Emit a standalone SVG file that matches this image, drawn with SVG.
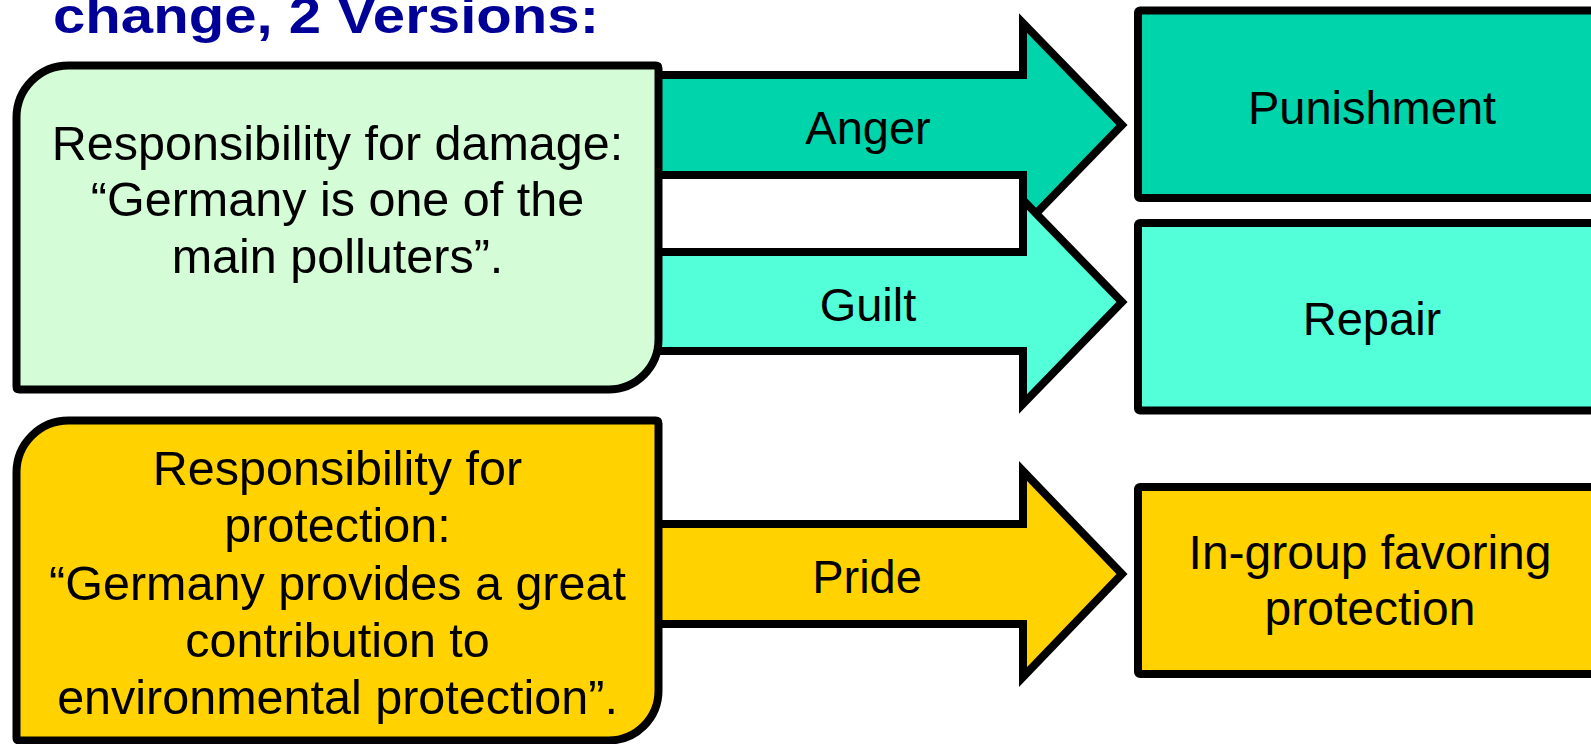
<svg xmlns="http://www.w3.org/2000/svg" width="1591" height="744" viewBox="0 0 1591 744">
<style>
.t{font-family:"Liberation Sans",Arial,sans-serif;font-size:47px;fill:#000;text-anchor:middle}
.big{font-size:48.5px}
.mid{font-size:48px}
.title{font-family:"Liberation Sans",Arial,sans-serif;font-weight:bold;font-size:50px;fill:#000099}
.s{stroke:#000;stroke-width:8;stroke-linejoin:miter}
.teal{fill:#00D4AA}
.aqua{fill:#52FFD9}
.green{fill:#D4FCD6}
.yellow{fill:#FFD200}
</style>
<rect width="1591" height="744" fill="#fff"/>
<text class="title" x="53" y="33" textLength="546" lengthAdjust="spacingAndGlyphs">change, 2 Versions:</text>
<g id="connectors">
  <g id="arrow-anger">
    <path class="s teal" d="M658,75 L1023,75 L1023,23 L1122,125 L1023,227 L1023,175 L658,175 Z"/>
    <text class="t" x="868" y="144">Anger</text>
  </g>
  <g id="arrow-guilt">
    <path class="s aqua" d="M658,252 L1023,252 L1023,200 L1122,302 L1023,404 L1023,351 L658,351 Z"/>
    <text class="t" x="868" y="321">Guilt</text>
  </g>
  <g id="arrow-pride">
    <path class="s yellow" d="M658,524 L1023,524 L1023,471 L1122,574 L1023,677 L1023,624 L658,624 Z"/>
    <text class="t" x="867" y="593">Pride</text>
  </g>
</g>
<g id="node-damage">
  <path class="s green" d="M16.5,117.5 A52,52 0 0 1 68.5,65.5 L655.5,65.5 Q658.5,65.5 658.5,68.5 L658.5,339.5 A50,50 0 0 1 608.5,389.5 L19.5,389.5 Q16.5,389.5 16.5,386.5 Z"/>
  <text class="t big" x="337.5" y="160">Responsibility for damage:</text>
  <text class="t big" x="337.5" y="216">“Germany is one of the</text>
  <text class="t big" x="337.5" y="273">main polluters”.</text>
</g>
<g id="node-protection">
  <path class="s yellow" d="M16.5,472.5 A52,52 0 0 1 68.5,420.5 L655.5,420.5 Q658.5,420.5 658.5,423.5 L658.5,690.5 A50,50 0 0 1 608.5,740.5 L19.5,740.5 Q16.5,740.5 16.5,737.5 Z"/>
  <text class="t big" x="337.5" y="485">Responsibility for</text>
  <text class="t big" x="337.5" y="542">protection:</text>
  <text class="t big" x="337.5" y="600">“Germany provides a great</text>
  <text class="t big" x="337.5" y="657">contribution to</text>
  <text class="t big" x="337.5" y="714">environmental protection”.</text>
</g>
<g id="node-punishment">
  <rect class="s teal" x="1138" y="10.5" width="480" height="187.5" rx="2"/>
  <text class="t" x="1372" y="124">Punishment</text>
</g>
<g id="node-repair">
  <rect class="s aqua" x="1138" y="223" width="480" height="187.5" rx="2"/>
  <text class="t" x="1372" y="335">Repair</text>
</g>
<g id="node-ingroup">
  <rect class="s yellow" x="1138" y="487" width="480" height="187" rx="2"/>
  <text class="t mid" x="1370" y="569">In-group favoring</text>
  <text class="t mid" x="1370" y="625">protection</text>
</g>
</svg>
